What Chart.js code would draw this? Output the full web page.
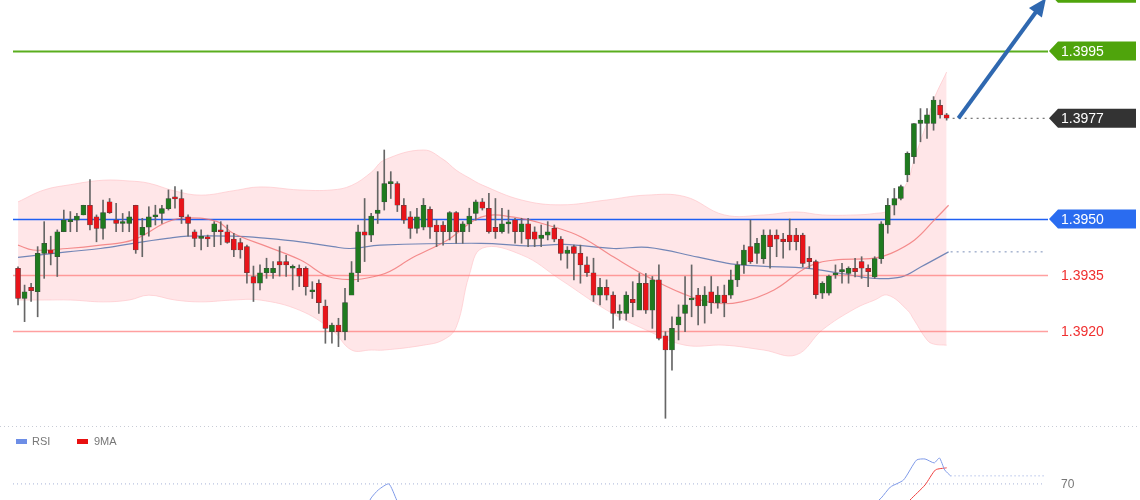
<!DOCTYPE html>
<html><head><meta charset="utf-8">
<script src="https://cdn.jsdelivr.net/npm/chart.js@4"></script>
<style>
html,body{margin:0;padding:0;background:#fff;}
#w{position:relative;width:1140px;height:500px;overflow:hidden;}
#c1{position:absolute;left:0;top:0;width:1140px;height:425px;}
#c2{position:absolute;left:0;top:425px;width:1140px;height:75px;}
</style></head><body>
<div id="w"><canvas id="c1" width="1140" height="425"></canvas><canvas id="c2" width="1140" height="75"></canvas></div>
<script>
const opens=[1.39368,1.39287,1.39317,1.39305,1.39408,1.39417,1.39399,1.39466,1.39493,1.39497,1.39511,1.39537,1.39506,1.39475,1.39546,1.39497,1.39488,1.39488,1.39537,1.39457,1.39478,1.39506,1.39515,1.39528,1.39555,1.39555,1.39506,1.39466,1.39448,1.39448,1.39466,1.39467,1.39466,1.39446,1.39437,1.39426,1.39346,1.39328,1.39356,1.39356,1.39386,1.39386,1.39368,1.39368,1.39368,1.39305,1.39328,1.39267,1.39198,1.39216,1.39198,1.39296,1.39356,1.39466,1.39457,1.39515,1.39546,1.39595,1.39595,1.39537,1.39506,1.39475,1.39478,1.39526,1.39484,1.39484,1.39466,1.39517,1.39466,1.39487,1.39515,1.39546,1.39529,1.39478,1.39466,1.39487,1.39497,1.39466,1.39487,1.39466,1.39448,1.39457,1.39475,1.39446,1.39408,1.39426,1.39408,1.39377,1.39356,1.39296,1.39317,1.39296,1.39247,1.39247,1.39285,1.39256,1.39328,1.39256,1.39337,1.39187,1.39149,1.39216,1.39247,1.39283,1.39296,1.39267,1.39305,1.39276,1.39296,1.39296,1.39337,1.39377,1.39426,1.39408,1.39394,1.39457,1.39457,1.39446,1.39457,1.39457,1.39457,1.39395,1.39386,1.39301,1.39301,1.39350,1.39359,1.39354,1.39368,1.39386,1.39368,1.39345,1.39394,1.39484,1.39537,1.39555,1.39618,1.39667,1.39756,1.39756,1.39756,1.39805,1.39779];
const highs=[1.39372,1.39323,1.39328,1.39426,1.39493,1.39454,1.39471,1.39524,1.39520,1.39515,1.39537,1.39606,1.39511,1.39551,1.39555,1.39542,1.39515,1.39520,1.39537,1.39502,1.39533,1.39537,1.39537,1.39578,1.39587,1.39578,1.39511,1.39471,1.39471,1.39457,1.39493,1.39493,1.39484,1.39462,1.39448,1.39430,1.39374,1.39377,1.39395,1.39386,1.39426,1.39403,1.39377,1.39377,1.39372,1.39332,1.39337,1.39283,1.39221,1.39234,1.39314,1.39386,1.39484,1.39555,1.39515,1.39627,1.39685,1.39627,1.39600,1.39555,1.39520,1.39529,1.39555,1.39533,1.39497,1.39493,1.39520,1.39520,1.39493,1.39529,1.39551,1.39555,1.39569,1.39555,1.39529,1.39524,1.39502,1.39502,1.39502,1.39479,1.39484,1.39493,1.39484,1.39453,1.39426,1.39430,1.39430,1.39399,1.39395,1.39341,1.39337,1.39305,1.39270,1.39305,1.39332,1.39354,1.39354,1.39346,1.39377,1.39198,1.39238,1.39270,1.39346,1.39377,1.39314,1.39319,1.39346,1.39319,1.39323,1.39363,1.39386,1.39430,1.39497,1.39448,1.39471,1.39471,1.39471,1.39462,1.39500,1.39475,1.39462,1.39426,1.39390,1.39332,1.39350,1.39377,1.39381,1.39372,1.39395,1.39399,1.39377,1.39399,1.39493,1.39555,1.39582,1.39591,1.39680,1.39756,1.39796,1.39796,1.39828,1.39819,1.39783];
const lows=[1.39270,1.39225,1.39279,1.39238,1.39341,1.39377,1.39346,1.39466,1.39466,1.39466,1.39511,1.39471,1.39439,1.39446,1.39515,1.39466,1.39466,1.39466,1.39408,1.39399,1.39454,1.39484,1.39488,1.39524,1.39529,1.39488,1.39454,1.39426,1.39417,1.39426,1.39426,1.39431,1.39435,1.39399,1.39395,1.39328,1.39279,1.39310,1.39341,1.39341,1.39347,1.39346,1.39310,1.39319,1.39296,1.39287,1.39247,1.39167,1.39167,1.39158,1.39176,1.39301,1.39332,1.39386,1.39439,1.39488,1.39524,1.39555,1.39520,1.39488,1.39448,1.39462,1.39471,1.39448,1.39426,1.39430,1.39444,1.39435,1.39435,1.39466,1.39497,1.39524,1.39462,1.39448,1.39462,1.39462,1.39435,1.39435,1.39426,1.39426,1.39426,1.39444,1.39439,1.39390,1.39368,1.39337,1.39328,1.39346,1.39279,1.39270,1.39283,1.39207,1.39229,1.39229,1.39238,1.39265,1.39247,1.39207,1.39176,1.38966,1.39095,1.39176,1.39198,1.39238,1.39216,1.39221,1.39247,1.39261,1.39238,1.39287,1.39319,1.39354,1.39381,1.39381,1.39381,1.39368,1.39399,1.39395,1.39417,1.39417,1.39372,1.39368,1.39287,1.39287,1.39296,1.39341,1.39328,1.39328,1.39345,1.39341,1.39319,1.39341,1.39381,1.39462,1.39511,1.39551,1.39600,1.39649,1.39707,1.39716,1.39738,1.39770,1.39765];
const closes=[1.39287,1.39305,1.39308,1.39408,1.39435,1.39408,1.39466,1.39497,1.39498,1.39508,1.39537,1.39484,1.39475,1.39517,1.39517,1.39488,1.39489,1.39506,1.39417,1.39478,1.39506,1.39507,1.39528,1.39555,1.39554,1.39506,1.39488,1.39448,1.39449,1.39447,1.39487,1.39466,1.39437,1.39417,1.39417,1.39356,1.39328,1.39356,1.39368,1.39368,1.39377,1.39377,1.39369,1.39347,1.39319,1.39306,1.39276,1.39207,1.39216,1.39198,1.39276,1.39356,1.39466,1.39457,1.39508,1.39524,1.39595,1.39596,1.39537,1.39497,1.39475,1.39506,1.39537,1.39478,1.39466,1.39466,1.39517,1.39466,1.39487,1.39508,1.39546,1.39529,1.39466,1.39466,1.39487,1.39488,1.39466,1.39487,1.39446,1.39446,1.39457,1.39466,1.39446,1.39408,1.39417,1.39408,1.39377,1.39356,1.39296,1.39317,1.39296,1.39247,1.39248,1.39296,1.39276,1.39328,1.39256,1.39337,1.39180,1.39149,1.39207,1.39238,1.39270,1.39284,1.39267,1.39296,1.39276,1.39296,1.39276,1.39337,1.39377,1.39417,1.39386,1.39435,1.39457,1.39426,1.39446,1.39439,1.39439,1.39439,1.39381,1.39386,1.39297,1.39328,1.39347,1.39351,1.39360,1.39368,1.39359,1.39368,1.39359,1.39394,1.39487,1.39537,1.39555,1.39587,1.39676,1.39756,1.39765,1.39779,1.39819,1.39779,1.39770];

const bandX=[0,4,8,13,17,20,24,28,33,37,43,48,51,54,56,62,65,67,69,71,77,83,90,96,102,108,114,119,123,128,131,133,136,137,139,140,142];
const bandUpper=[1.39546,1.39578,1.39592,1.39604,1.39602,1.39596,1.39575,1.39564,1.39576,1.39586,1.39578,1.39578,1.39590,1.39625,1.39658,1.39685,1.39660,1.39631,1.39610,1.39591,1.39551,1.39538,1.39551,1.39564,1.39560,1.39511,1.39511,1.39519,1.39511,1.39511,1.39515,1.39524,1.39600,1.39658,1.39760,1.39819,1.39894];
const bandLower=[1.39283,1.39283,1.39283,1.39278,1.39283,1.39296,1.39283,1.39278,1.39283,1.39283,1.39256,1.39203,1.39149,1.39149,1.39149,1.39162,1.39176,1.39210,1.39350,1.39422,1.39404,1.39337,1.39256,1.39203,1.39162,1.39162,1.39149,1.39136,1.39203,1.39260,1.39283,1.39296,1.39256,1.39230,1.39176,1.39165,1.39162];
const midX=[0,2.3,7.5,12.6,17.6,22.8,25.9,30.5,32.9,38.1,43.2,48.2,55.4,60.5,65.7,70.8,75.8,81.9,86.1,91.1,96.3,101.4,106.4,110.6,115.6,120.8,124.8,130.9,133.5,137.1,140.1,142.3];
const midVals=[1.39430,1.39417,1.39421,1.39430,1.39444,1.39492,1.39503,1.39493,1.39462,1.39426,1.39390,1.39342,1.39350,1.39398,1.39444,1.39505,1.39505,1.39479,1.39452,1.39398,1.39345,1.39302,1.39275,1.39278,1.39310,1.39372,1.39390,1.39395,1.39408,1.39444,1.39497,1.39537];
const maX=[0,7.5,12.6,17.6,22.8,25.9,32.9,38.1,43.2,48.2,50.8,55.4,70.8,78.4,83.5,91.1,96.3,104,109,113.6,120.8,125.9,130.9,135.1,138.1,142.3];
const maVals=[1.39397,1.39412,1.39421,1.39435,1.39448,1.39454,1.39454,1.39448,1.39439,1.39426,1.39421,1.39430,1.39435,1.39428,1.39432,1.39421,1.39424,1.39398,1.39380,1.39374,1.39368,1.39354,1.39341,1.39345,1.39372,1.39412];

const levels=[{v:1.3995,label:'1.3995',kind:'green'},{v:1.3950,label:'1.3950',kind:'blue'},{v:1.3935,label:'1.3935',kind:'red'},{v:1.3920,label:'1.3920',kind:'red'}];
const topTarget=1.40105;
const currentPrice=1.3977, currentLabel='1.3977';
const arrowStart=[143.8,1.39770], arrowEnd=[157.2,1.40092];

const rsiX=[50,53,54,55.1,56.7,57.9,59,128,130,132,133.4,135.4,137.4,138.7,140.1,140.9,141.7,142.6];
const rsiVals=[55,60,64.6,67.7,70,63.8,58,55,60,64.6,68.8,71.5,79.2,79.6,78.1,80,75.4,73.1];
const ma9X=[134,135,136.4,138.7,140.3,142];
const ma9Vals=[55,60,63.8,69.6,75.4,76.2];
const rsiLevel=70;

const idx=opens.map((_,i)=>i);
const FONT='"Liberation Sans", Arial, sans-serif';

function pentBox(ctx,x,y,w,h,color){
  ctx.fillStyle=color;ctx.beginPath();
  ctx.moveTo(x,y);ctx.lineTo(x+9,y-h/2);ctx.lineTo(x+w,y-h/2);ctx.lineTo(x+w,y+h/2);ctx.lineTo(x+9,y+h/2);ctx.closePath();ctx.fill();
}
const overlay={
  id:'overlay',
  afterDatasetDraw(chart,args){
    if(args.index!==3) return;
    const {ctx,scales:{y}}=chart;
    ctx.save();
    levels.forEach(l=>{
      const py=Math.round(y.getPixelForValue(l.v))+0.5;
      ctx.beginPath();
      if(l.kind==='green'){ctx.strokeStyle='#5aae1e';ctx.lineWidth=2;}
      else if(l.kind==='blue'){ctx.strokeStyle='#1f5ff2';ctx.lineWidth=1.3;}
      else {ctx.strokeStyle='rgba(255,120,120,0.7)';ctx.lineWidth=1.5;}
      ctx.moveTo(13,py);ctx.lineTo(1048,py);ctx.stroke();
    });
    ctx.restore();
  },
  afterDatasetsDraw(chart){
    const {ctx,scales:{x,y}}=chart;
    ctx.save();
    const lastX=x.getPixelForValue(opens.length-1);
    ctx.setLineDash([2,4]);ctx.lineWidth=1;
    ctx.strokeStyle='#555';
    let py=y.getPixelForValue(currentPrice);
    ctx.beginPath();ctx.moveTo(lastX+6,py);ctx.lineTo(1046,py);ctx.stroke();
    ctx.strokeStyle='#7a8fb8';
    const pm=y.getPixelForValue(maVals[maVals.length-1]);
    ctx.beginPath();ctx.moveTo(lastX+4,pm);ctx.lineTo(1046,pm);ctx.stroke();
    ctx.setLineDash([]);
    const ax=x.getPixelForValue(arrowStart[0]),ay=y.getPixelForValue(arrowStart[1]);
    const bx=x.getPixelForValue(arrowEnd[0]),by=y.getPixelForValue(arrowEnd[1]);
    const ang=Math.atan2(by-ay,bx-ax);
    ctx.strokeStyle='#2f68b0';ctx.fillStyle='#2f68b0';ctx.lineWidth=4;
    ctx.beginPath();ctx.moveTo(ax,ay);ctx.lineTo(bx-10*Math.cos(ang),by-10*Math.sin(ang));ctx.stroke();
    ctx.beginPath();ctx.moveTo(bx,by);
    ctx.lineTo(bx-18*Math.cos(ang)+8*Math.sin(ang),by-18*Math.sin(ang)-8*Math.cos(ang));
    ctx.lineTo(bx-18*Math.cos(ang)-8*Math.sin(ang),by-18*Math.sin(ang)+8*Math.cos(ang));
    ctx.closePath();ctx.fill();
    ctx.font='14px '+FONT;ctx.textBaseline='middle';
    pentBox(ctx,1049,y.getPixelForValue(topTarget),87,19,'#4fa40c');
    levels.forEach(l=>{
      const p=y.getPixelForValue(l.v);
      if(l.kind==='green'){pentBox(ctx,1049,p,87,19,'#4fa40c');ctx.fillStyle='#fff';}
      else if(l.kind==='blue'){pentBox(ctx,1049,p,87,19,'#2a6cf0');ctx.fillStyle='#fff';}
      else ctx.fillStyle='#f03030';
      ctx.fillText(l.label,1061,p+1);
    });
    pentBox(ctx,1049,py,87,19,'#333');ctx.fillStyle='#fff';ctx.fillText(currentLabel,1061,py+1);
    ctx.restore();
  }
};

const bodyColors=idx.map(i=>closes[i]>=opens[i]?'#1f7a1f':'#e8141a');
new Chart(document.getElementById('c1'),{
  type:'bar',
  data:{datasets:[
    {type:'line',data:bandX.map((v,i)=>({x:v,y:bandUpper[i]})),borderColor:'rgba(255,190,195,0.6)',borderWidth:1,pointRadius:0,tension:0.4,fill:'+1',backgroundColor:'rgba(255,200,205,0.45)',order:10},
    {type:'line',data:bandX.map((v,i)=>({x:v,y:bandLower[i]})),borderColor:'rgba(255,190,195,0.6)',borderWidth:1,pointRadius:0,tension:0.4,fill:false,order:10},
    {type:'line',data:midX.map((v,i)=>({x:v,y:midVals[i]})),borderColor:'rgba(240,110,110,0.75)',borderWidth:1.2,pointRadius:0,tension:0.4,fill:false,order:5},
    {type:'line',data:maX.map((v,i)=>({x:v,y:maVals[i]})),borderColor:'rgba(80,110,170,0.8)',borderWidth:1.2,pointRadius:0,tension:0.4,fill:false,order:5},
    {type:'bar',data:idx.map(i=>({x:i,y:[lows[i],highs[i]]})),backgroundColor:'#666',barThickness:1,grouped:false,order:2},
    {type:'bar',data:idx.map(i=>({x:i,y:[opens[i],closes[i]]})),backgroundColor:bodyColors,borderColor:'#444',borderWidth:0.5,borderSkipped:false,barThickness:5,minBarLength:2,grouped:false,order:1}
  ]},
  options:{
    responsive:false,animation:false,devicePixelRatio:1,
    layout:{padding:{left:13,right:92,top:0,bottom:0}},
    plugins:{legend:{display:false},tooltip:{enabled:false}},
    scales:{
      x:{type:'linear',min:-0.77,max:157.5,display:false,offset:false},
      y:{min:1.38948,max:1.40087,display:false}
    }
  },
  plugins:[overlay]
});

const rsiOverlay={
  id:'rsiOverlay',
  beforeDatasetsDraw(chart){
    const {ctx,scales:{x,y}}=chart;
    ctx.save();
    ctx.setLineDash([1,3]);ctx.strokeStyle='#c8ccd6';ctx.lineWidth=1;
    ctx.beginPath();ctx.moveTo(0,1.5);ctx.lineTo(1140,1.5);ctx.stroke();
    ctx.strokeStyle='#a8b4d8';
    const py=y.getPixelForValue(rsiLevel);
    ctx.beginPath();ctx.moveTo(13,py);ctx.lineTo(1045,py);ctx.stroke();
    const lx=x.getPixelForValue(rsiX[rsiX.length-1]);
    const ly=y.getPixelForValue(rsiVals[rsiVals.length-1]);
    ctx.strokeStyle='#8fa3e0';
    ctx.beginPath();ctx.moveTo(lx,ly);ctx.lineTo(1046,ly);ctx.stroke();
    ctx.setLineDash([]);
    ctx.font='12px '+FONT;ctx.textBaseline='middle';ctx.fillStyle='#777';
    ctx.fillText(String(rsiLevel),1061,py+1);
    ctx.font='11px '+FONT;
    ctx.fillStyle='#6d8ee6';ctx.fillRect(16,14,11,5);
    ctx.fillStyle='#777';ctx.fillText('RSI',32,17);
    ctx.fillStyle='#e81010';ctx.fillRect(77,14,11,5);
    ctx.fillStyle='#777';ctx.fillText('9MA',94,17);
    ctx.restore();
  }
};
new Chart(document.getElementById('c2'),{
  type:'line',
  data:{datasets:[
    {data:rsiX.map((v,i)=>({x:v,y:rsiVals[i]})),borderColor:'#7f9ae8',borderWidth:1,pointRadius:0,tension:0.2},
    {data:ma9X.map((v,i)=>({x:v,y:ma9Vals[i]})),borderColor:'#f04040',borderWidth:1,pointRadius:0,tension:0.2}
  ]},
  options:{
    responsive:false,animation:false,devicePixelRatio:1,
    layout:{padding:{left:13,right:92,top:0,bottom:0}},
    plugins:{legend:{display:false},tooltip:{enabled:false}},
    scales:{
      x:{type:'linear',min:-0.77,max:157.5,display:false},
      y:{min:63.8,max:92.7,display:false}
    }
  },
  plugins:[rsiOverlay]
});
</script>
</body></html>
